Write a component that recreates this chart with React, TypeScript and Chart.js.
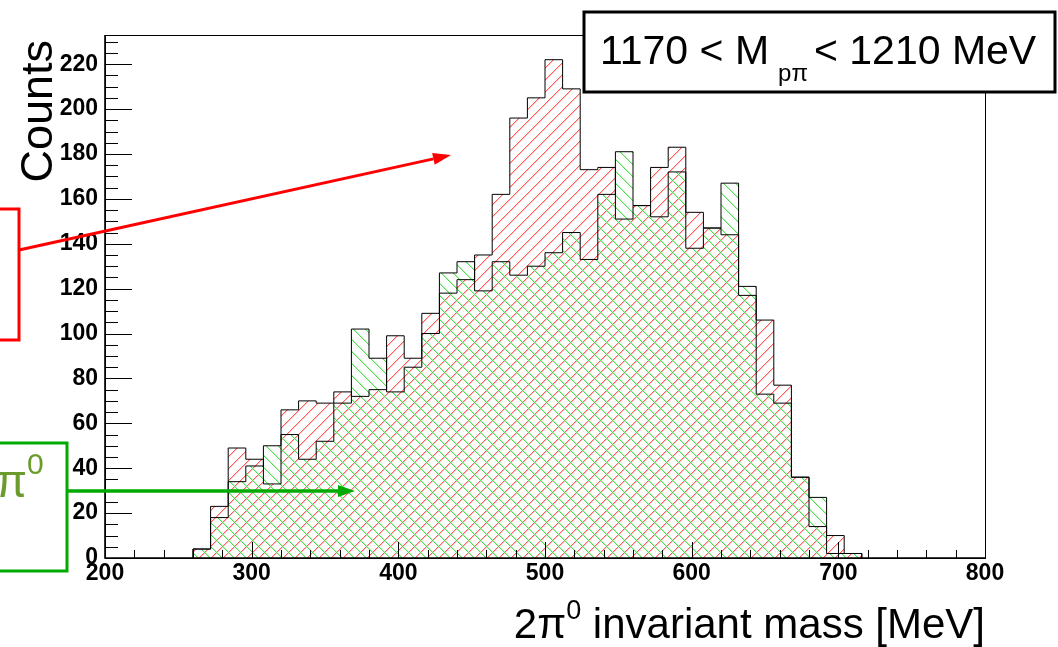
import React, { useEffect, useRef } from "react";
import { Chart, registerables } from "chart.js";

Chart.register(...registerables);

// ---- data ----
const binStart = 260; // MeV, lower edge of first filled bin
const binWidth = 12; // MeV
const redCounts = [4, 23, 49, 44, 33, 66, 70, 69, 74, 72, 75, 99, 89, 109, 118, 124, 135, 162, 196, 205, 222, 209, 173, 174, 151, 157, 174, 183, 154, 147, 144, 117, 106, 77, 36, 14, 10, 2];
const greenCounts = [4, 18, 34, 41, 50, 55, 44, 52, 69, 102, 89, 74, 85, 100, 127, 132, 119, 132, 126, 130, 136, 145, 133, 162, 181, 157, 152, 172, 138, 147, 167, 121, 73, 69, 36, 27, 2, 2];
const xTickValues = [200, 300, 400, 500, 600, 700, 800];
const yTickValues = [0, 20, 40, 60, 80, 100, 120, 140, 160, 180, 200, 220];
const xMin = 200;
const xMax = 800;
const yMax = 233;
const xMinorStep = 20;
const yMinorStep = 5;

const FONT = "'Liberation Sans', Arial, Helvetica, sans-serif";

const hatchStyles = [
  { main: "#ff5c5c", halo: "#ffc2c2", forward: true },
  { main: "#4ede4e", halo: "#bff3bf", forward: false },
];

function stepPoints(counts: number[]) {
  const pts: { x: number; y: number }[] = [{ x: binStart, y: 0 }];
  counts.forEach((c, i) => pts.push({ x: binStart + i * binWidth, y: c }));
  pts.push({ x: binStart + counts.length * binWidth, y: 0 });
  return pts;
}

function drawArrow(
  ctx: CanvasRenderingContext2D,
  x1: number, y1: number, x2: number, y2: number,
  color: string, width: number, headLen: number, headHalf: number
) {
  const ang = Math.atan2(y2 - y1, x2 - x1);
  const bx = x2 - headLen * Math.cos(ang);
  const by = y2 - headLen * Math.sin(ang);
  ctx.strokeStyle = color;
  ctx.fillStyle = color;
  ctx.lineWidth = width;
  ctx.beginPath();
  ctx.moveTo(x1, y1);
  ctx.lineTo(bx, by);
  ctx.stroke();
  ctx.beginPath();
  ctx.moveTo(x2, y2);
  ctx.lineTo(bx + headHalf * Math.sin(ang), by - headHalf * Math.cos(ang));
  ctx.lineTo(bx - headHalf * Math.sin(ang), by + headHalf * Math.cos(ang));
  ctx.closePath();
  ctx.fill();
}

// hatched fill under each stepped histogram, using the points Chart.js placed
const hatchPlugin = {
  id: "hatchFill",
  beforeDatasetsDraw(chart: any) {
    const { ctx, chartArea: a } = chart;
    const base = chart.scales.y.getPixelForValue(0);
    const s = 12;
    const x0 = Math.floor(a.left);
    const x1 = Math.ceil(a.right);
    const y0 = Math.floor(a.top);
    const y1 = Math.ceil(a.bottom);
    hatchStyles.forEach((hs, idx) => {
      const meta = chart.getDatasetMeta(idx);
      const pts = meta.data;
      if (!pts || pts.length < 2) return;
      ctx.save();
      ctx.beginPath();
      ctx.moveTo(pts[0].x, base);
      for (let i = 0; i < pts.length - 1; i++) {
        ctx.lineTo(pts[i].x, pts[i].y);
        ctx.lineTo(pts[i + 1].x, pts[i].y);
      }
      ctx.lineTo(pts[pts.length - 1].x, base);
      ctx.closePath();
      ctx.clip();
      const passes: [string, number][] = [
        [hs.halo, 1],
        [hs.main, 0],
      ];
      for (const [col, off] of passes) {
        ctx.fillStyle = col;
        for (let y = y0; y <= y1; y++) {
          let r;
          if (hs.forward) r = ((-(y) % s) + s) % s; // x + y ≡ 0
          else r = ((y % s) + s) % s; // x - y ≡ 0
          let x = x0 + ((((r - x0) % s) + s) % s);
          for (; x <= x1; x += s) ctx.fillRect(x + off, y, 1, 1);
        }
      }
      ctx.restore();
    });
  },
};

const overlayPlugin = {
  id: "rootOverlay",
  afterDraw(chart: any) {
    const { ctx, chartArea: a, scales } = chart;
    const xs = scales.x;
    const ys = scales.y;
    ctx.save();

    // ticks (ROOT style, inward)
    ctx.strokeStyle = "#000";
    ctx.lineWidth = 1;
    ctx.beginPath();
    for (let v = 0; v <= yMax; v += yMinorStep) {
      const py = Math.round(ys.getPixelForValue(v)) + 0.5;
      const len = v % 20 === 0 ? 27 : 13;
      ctx.moveTo(a.left, py);
      ctx.lineTo(a.left + len, py);
    }
    for (let v = xMin; v <= xMax; v += xMinorStep) {
      const px = Math.round(xs.getPixelForValue(v)) + 0.5;
      const len = v % 100 === 0 ? 16 : 8;
      ctx.moveTo(px, a.bottom);
      ctx.lineTo(px, a.bottom - len);
    }
    ctx.stroke();

    // frame
    ctx.lineWidth = 1;
    ctx.strokeRect(Math.round(a.left) + 0.5, Math.round(a.top) + 0.5, Math.round(a.right - a.left), Math.round(a.bottom - a.top));
    ctx.lineWidth = 1.6;
    ctx.beginPath();
    ctx.moveTo(Math.round(a.left), a.top);
    ctx.lineTo(Math.round(a.left), a.bottom);
    ctx.lineTo(a.right, a.bottom);
    ctx.stroke();

    // red annotation box + arrow
    ctx.lineWidth = 3;
    ctx.strokeStyle = "#ff0000";
    ctx.strokeRect(-20, 209, 39, 131);
    drawArrow(ctx, 19, 250, 451, 155, "#ff0000", 3, 18, 6);

    // green annotation box + arrow
    ctx.lineWidth = 3;
    ctx.strokeStyle = "#00aa00";
    ctx.strokeRect(-20, 443, 87, 128);
    drawArrow(ctx, 67, 491, 355, 491, "#00aa00", 3.5, 17, 6);

    // pi0 label (cut at the left edge)
    ctx.fillStyle = "#6b9b2c";
    ctx.textBaseline = "alphabetic";
    ctx.font = `46px ${FONT}`;
    ctx.textAlign = "right";
    ctx.fillText("2\u03c0", 27, 497);
    ctx.textAlign = "left";
    ctx.font = `30px ${FONT}`;
    ctx.fillText("0", 27, 474);

    // title box
    ctx.fillStyle = "#fff";
    ctx.fillRect(584, 12, 471, 80);
    ctx.strokeStyle = "#000";
    ctx.lineWidth = 3;
    ctx.strokeRect(584, 12, 471, 80);
    ctx.fillStyle = "#000";
    ctx.textAlign = "left";
    ctx.font = `41px ${FONT}`;
    const t1 = "1170 < M";
    let tx = 600;
    ctx.fillText(t1, tx, 64);
    tx += ctx.measureText(t1).width + 9;
    ctx.font = `24px ${FONT}`;
    ctx.fillText("p\u03c0", tx, 81);
    tx += ctx.measureText("p\u03c0").width + 6;
    ctx.font = `41px ${FONT}`;
    ctx.fillText("< 1210 MeV", tx, 64);

    // y-axis title
    ctx.save();
    ctx.translate(52, 40);
    ctx.rotate(-Math.PI / 2);
    ctx.textAlign = "right";
    ctx.font = `45px ${FONT}`;
    ctx.fillText("Counts", 0, 0);
    ctx.restore();

    // x-axis title
    ctx.font = `42px ${FONT}`;
    const p1 = "2\u03c0";
    const p3 = " invariant mass [MeV]";
    const w1 = ctx.measureText(p1).width;
    const w3 = ctx.measureText(p3).width;
    ctx.font = `27px ${FONT}`;
    const w2 = ctx.measureText("0").width;
    const right = 985;
    const start = right - (w1 + w2 + w3);
    ctx.font = `42px ${FONT}`;
    ctx.textAlign = "left";
    ctx.fillText(p1, start, 638);
    ctx.font = `27px ${FONT}`;
    ctx.fillText("0", start + w1, 619);
    ctx.font = `42px ${FONT}`;
    ctx.fillText(p3, start + w1 + w2, 638);

    ctx.restore();
  },
};

export default function App() {
  const canvasRef = useRef<HTMLCanvasElement | null>(null);

  useEffect(() => {
    document.body.style.margin = "0";
    const canvas = canvasRef.current;
    if (!canvas) return;

    const chart = new Chart(canvas, {
      type: "line",
      data: {
        datasets: [
          {
            label: "red",
            data: stepPoints(redCounts),
            stepped: "before",
            borderColor: "#000",
            borderWidth: 1,
            backgroundColor: "rgba(0,0,0,0)",
            fill: false,
            pointRadius: 0,
            tension: 0,
          },
          {
            label: "green",
            data: stepPoints(greenCounts),
            stepped: "before",
            borderColor: "#000",
            borderWidth: 1,
            backgroundColor: "rgba(0,0,0,0)",
            fill: false,
            pointRadius: 0,
            tension: 0,
          },
        ],
      },
      options: {
        animation: false,
        responsive: false,
        devicePixelRatio: 1,
        parsing: false as any,
        layout: { padding: { left: 0, top: 35, right: 73, bottom: 0 } },
        plugins: {
          legend: { display: false },
          tooltip: { enabled: false },
          title: { display: false },
        },
        scales: {
          x: {
            type: "linear",
            min: xMin,
            max: xMax,
            grid: { display: false, drawTicks: false },
            border: { display: false },
            afterBuildTicks: (s: any) => {
              s.ticks = xTickValues.map((v) => ({ value: v }));
            },
            afterFit: (s: any) => {
              s.height = 89;
            },
            ticks: {
              color: "#000",
              padding: 2,
              maxRotation: 0,
              autoSkip: false,
              font: { family: FONT, size: 23, weight: "bold" },
              callback: (v: any) => String(v),
            },
          },
          y: {
            type: "linear",
            min: 0,
            max: yMax,
            grid: { display: false, drawTicks: false },
            border: { display: false },
            afterBuildTicks: (s: any) => {
              s.ticks = yTickValues.map((v) => ({ value: v }));
            },
            afterFit: (s: any) => {
              s.width = 105;
            },
            ticks: {
              color: "#000",
              padding: 7,
              autoSkip: false,
              font: { family: FONT, size: 23, weight: "bold" },
              callback: (v: any) => String(v),
            },
          },
        },
      },
      plugins: [hatchPlugin, overlayPlugin],
    });
    return () => chart.destroy();
  }, []);

  return (
    <div style={{ width: 1058, height: 647, background: "#fff" }}>
      <canvas ref={canvasRef} width={1058} height={647} style={{ display: "block" }} />
    </div>
  );
}
